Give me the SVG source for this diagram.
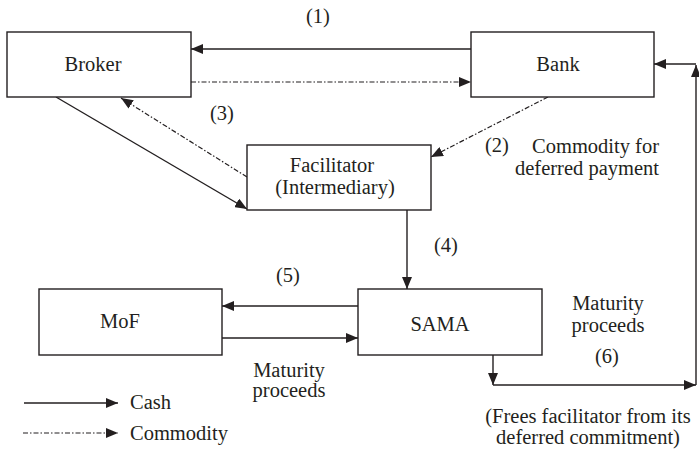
<svg xmlns="http://www.w3.org/2000/svg" width="699" height="452" viewBox="0 0 699 452">
<style>
.box{fill:#fff;stroke:#231f20;stroke-width:1.4}
.c{fill:none;stroke:#231f20;stroke-width:1.4}
.d{fill:none;stroke:#231f20;stroke-width:1.2;stroke-dasharray:5 2 1.5 2}
text{font-family:"Liberation Serif","Times New Roman",serif;font-size:20.5px;fill:#231f20}
.m{text-anchor:middle}
.e{text-anchor:end}
</style>
<defs>
<marker id="ah" markerUnits="userSpaceOnUse" markerWidth="12" markerHeight="10" refX="12" refY="5" orient="auto">
<path d="M0,0 L12,5 L0,10 z" fill="#231f20"/>
</marker>
</defs>
<g id="connectors">
<line class="c" x1="471" y1="49" x2="191" y2="49" marker-end="url(#ah)"/>
<line class="d" x1="191" y1="82" x2="471" y2="82" marker-end="url(#ah)"/>
<line class="c" x1="56" y1="97" x2="247" y2="209" marker-end="url(#ah)"/>
<line class="d" x1="247" y1="177" x2="121" y2="98" marker-end="url(#ah)"/>
<line class="d" x1="548" y1="97" x2="431" y2="157" marker-end="url(#ah)"/>
<line class="c" x1="407" y1="210" x2="407" y2="289" marker-end="url(#ah)"/>
<line class="c" x1="358" y1="306" x2="222" y2="306" marker-end="url(#ah)"/>
<line class="c" x1="222" y1="338" x2="358" y2="338" marker-end="url(#ah)"/>
<line class="c" x1="493" y1="355" x2="493" y2="385" marker-end="url(#ah)"/>
<line class="c" x1="493" y1="385" x2="696" y2="385" marker-end="url(#ah)"/>
<line class="c" x1="696" y1="385" x2="696" y2="65" marker-end="url(#ah)"/>
<line class="c" x1="696" y1="64" x2="654" y2="64" marker-end="url(#ah)"/>
<line class="c" x1="24" y1="403" x2="118" y2="403" marker-end="url(#ah)"/>
<line class="d" x1="23" y1="433" x2="118" y2="433" marker-end="url(#ah)"/>
</g>
<g id="broker"><rect class="box" x="7" y="32" width="184" height="65"/><text class="m" x="93" y="71">Broker</text></g>
<g id="bank"><rect class="box" x="471" y="32" width="183" height="65"/><text class="m" x="558" y="71">Bank</text></g>
<g id="facilitator"><rect class="box" x="247" y="145" width="184" height="65"/><text class="m" x="332" y="172">Facilitator</text><text class="m" x="335" y="194">(Intermediary)</text></g>
<g id="mof"><rect class="box" x="39" y="289" width="183" height="66"/><text class="m" x="120" y="328">MoF</text></g>
<g id="sama"><rect class="box" x="358" y="289" width="184" height="66"/><text class="m" x="440" y="331">SAMA</text></g>
<g id="labels">
<text class="m" x="318" y="23">(1)</text>
<text class="m" x="497" y="152">(2)</text>
<text class="e" x="659" y="153">Commodity for</text>
<text class="e" x="659" y="175">deferred payment</text>
<text class="m" x="222" y="120">(3)</text>
<text class="m" x="446" y="252">(4)</text>
<text class="m" x="288" y="282">(5)</text>
<text class="m" x="289" y="377">Maturity</text>
<text class="m" x="289" y="397">proceeds</text>
<text class="m" x="608" y="310">Maturity</text>
<text class="m" x="608" y="332">proceeds</text>
<text class="m" x="607" y="363">(6)</text>
<text class="m" x="588" y="423">(Frees facilitator from its</text>
<text class="m" x="588" y="444">deferred commitment)</text>
<text x="130" y="409">Cash</text>
<text x="130" y="440">Commodity</text>
</g>
</svg>
